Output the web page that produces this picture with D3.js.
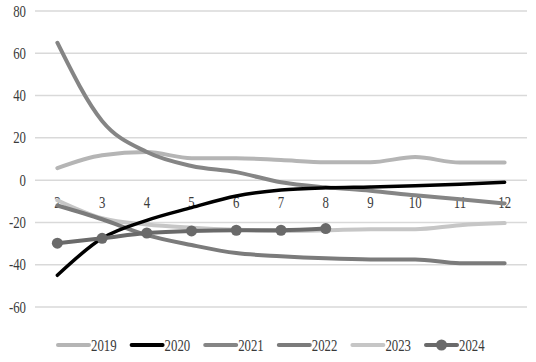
<!DOCTYPE html>
<html><head><meta charset="utf-8">
<script src="https://cdn.jsdelivr.net/npm/d3@7"></script>
<style>body{margin:0;background:#fff}svg{display:block}</style>
</head><body>
<svg id="c" width="536" height="362"></svg>
<script>
const categories = [2,3,4,5,6,7,8,9,10,11,12];
const yTicks = [-60,-40,-20,0,20,40,60,80];
const s2019 = [5.7,11.8,13.3,10.4,10.4,9.5,8.5,8.5,10.9,8.3,8.3];
const s2020 = [-45,-27.5,-19,-13,-7.5,-4.7,-3.6,-3.2,-2.7,-2,-1];
const s2021 = [65,28,13.3,6.7,3.8,-1,-3.4,-5,-7.2,-9,-11];
const s2022 = [-12,-18.5,-26,-30.7,-34.5,-36,-37,-37.5,-37.5,-39.3,-39.3];
const s2023 = [-9.5,-18,-21,-22.5,-23.5,-24,-23.7,-23.2,-23.2,-21.3,-20.3];
const s2024 = [-29.8,-27.5,-25,-24,-23.7,-23.7,-22.9];
const seriesNames = ["2019","2020","2021","2022","2023","2024"];
const colors = ["#b5b5b5","#000000","#858585","#7b7b7b","#c6c6c6","#6a6a6a"];
const seriesData = [s2019,s2020,s2021,s2022,s2023,s2024];

const svg = d3.select("#c");
const L = 35, R = 527, T = 11, B = 307;
const x = d3.scalePoint().domain(categories).range([L, R]).padding(0.5);
const y = d3.scaleLinear().domain([-60, 80]).range([B, T]);
const font = "'Liberation Serif', 'Times New Roman', serif";
const sx = 0.8;

svg.append("g").selectAll("line").data(yTicks).join("line")
  .attr("x1", L).attr("x2", R)
  .attr("y1", d => y(d)).attr("y2", d => y(d))
  .attr("stroke", "#d9d9d9").attr("stroke-width", 1.5);

svg.append("g").selectAll("text").data(yTicks).join("text")
  .attr("transform", d => `translate(26,${y(d) + 5.5}) scale(${sx},1)`)
  .attr("text-anchor", "end")
  .attr("font-family", font).attr("font-size", 16).attr("fill", "#3a3a3a")
  .text(d => d);

svg.append("g").selectAll("text").data(categories).join("text")
  .attr("transform", d => `translate(${x(d)},${y(0) + 28}) scale(${sx},1)`)
  .attr("text-anchor", "middle")
  .attr("font-family", font).attr("font-size", 16).attr("fill", "#3a3a3a")
  .text(d => d);

const line = d3.line().x((d, i) => x(categories[i])).y(d => y(d)).curve(d3.curveMonotoneX);

const order = [4,0,3,2,1,5];
order.forEach(k => {
  svg.append("path").datum(seriesData[k])
    .attr("d", line).attr("fill", "none")
    .attr("stroke", colors[k]).attr("stroke-width", k === 1 ? 3.5 : 4)
    .attr("stroke-linecap", "round").attr("stroke-linejoin", "round");
});
svg.append("g").selectAll("circle").data(s2024).join("circle")
  .attr("cx", (d, i) => x(categories[i])).attr("cy", d => y(d))
  .attr("r", 5.5).attr("fill", colors[5]);

const lg = svg.append("g");
const legX0 = 58, legStep = 73.6, legY = 345;
seriesNames.forEach((n, i) => {
  const gx = legX0 + i * legStep;
  lg.append("line").attr("x1", gx).attr("x2", gx + 31).attr("y1", legY).attr("y2", legY)
    .attr("stroke", colors[i]).attr("stroke-width", 4).attr("stroke-linecap", "round");
  if (i === 5) lg.append("circle").attr("cx", gx + 15.5).attr("cy", legY).attr("r", 5.5).attr("fill", colors[i]);
  lg.append("text")
    .attr("transform", `translate(${gx + 33},${legY + 6}) scale(${sx},1)`)
    .attr("font-family", font).attr("font-size", 16).attr("fill", "#3a3a3a")
    .text(n);
});
</script>
</body></html>
